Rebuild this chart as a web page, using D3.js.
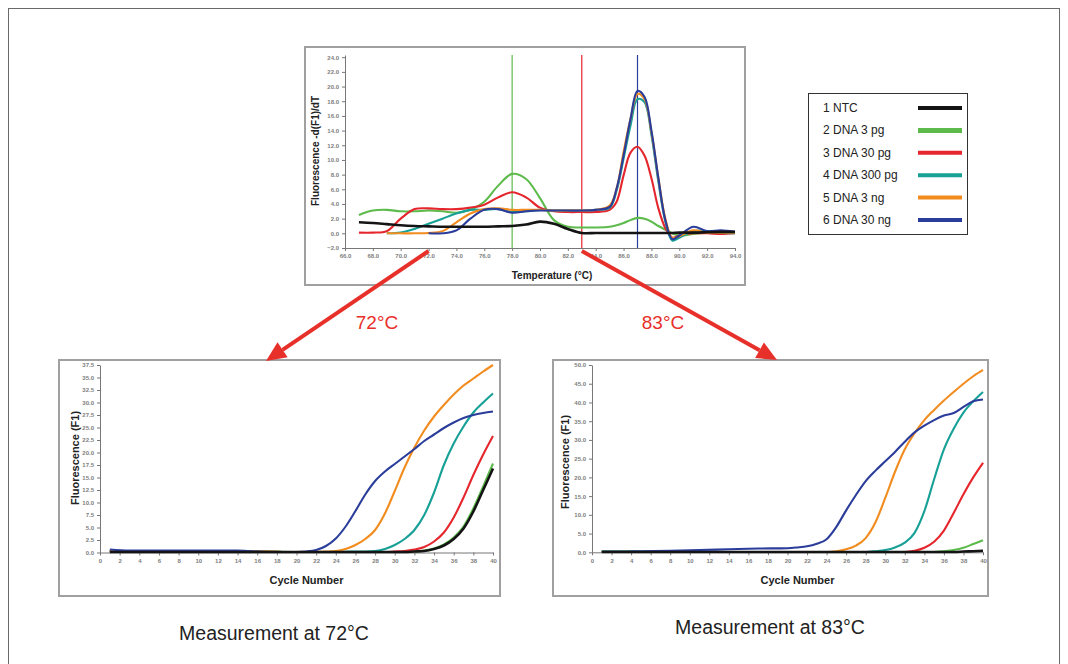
<!DOCTYPE html>
<html>
<head>
<meta charset="utf-8">
<script src="https://cdn.jsdelivr.net/npm/d3@7/dist/d3.min.js"></script>
<style>
body { margin: 0; background: #fff; }
svg { display: block; font-family: 'Liberation Sans', Arial, sans-serif; }
.axis .tick text { font-size: 6px; font-weight: bold; fill: #808080; }
.axis .tick line, .axis .domain { stroke: #777; }
</style>
</head>
<body>
<script>
var seriesNames = ['1 NTC', '2 DNA 3 pg', '3 DNA 30 pg', '4 DNA 300 pg', '5 DNA 3 ng', '6 DNA 30 ng'];
var seriesColors = ['#141414', '#5dbb4c', '#e5262d', '#17a096', '#f28c1f', '#2b3d9a'];

// melting curve, -d(F1)/dT
var meltTemps = [67, 68, 69, 70, 71, 72, 73, 74, 75, 76, 77, 78, 79, 80, 81, 82, 83, 84, 85, 85.5, 86, 86.5, 87, 87.5, 88, 88.5, 89, 89.5, 90, 91, 92, 93, 94];
var meltNTC = [1.5, 1.4, 1.25, 1.1, 1.0, 0.95, 0.9, 0.9, 0.9, 0.9, 0.95, 1.0, 1.2, 1.6, 1.3, 0.6, 0.05, 0.05, 0.05, 0.05, 0.05, 0.05, 0.05, 0.05, 0.05, 0.05, 0.05, 0.05, 0.1, 0.1, 0.15, 0.2, 0.2];
var melt3pg = [2.5, 3.1, 3.2, 3.0, 3.0, 3.1, 3.0, 2.8, 3.2, 4.3, 6.5, 8.1, 7.4, 4.8, 1.8, 0.9, 0.8, 0.8, 0.9, 1.1, 1.4, 1.8, 2.1, 2.0, 1.6, 1.0, 0.5, 0.0, -0.3, -0.1, 0.1, 0.2, 0.1];
var melt30pg = [0.1, 0.1, 0.3, 2.0, 3.3, 3.4, 3.3, 3.3, 3.5, 3.9, 4.9, 5.6, 4.9, 3.5, 3.0, 2.9, 2.9, 2.9, 3.2, 4.3, 7.9, 11.0, 11.8, 10.6, 7.5, 3.4, 0.7, -0.6, -0.3, 0.0, 0.0, -0.1, 0.0];
var melt300pg = [null, null, 0.0, 0.1, 0.6, 1.3, 2.0, 2.7, 3.2, 3.2, 3.3, 2.9, 3.0, 3.2, 3.1, 3.1, 3.1, 3.2, 3.5, 5.8, 10.2, 14.7, 18.3, 17.9, 13.4, 7.0, 1.6, -1.0, -0.6, 0.3, 0.3, 0.1, 0.0];
var melt3ng = [null, null, 0.0, 0.0, 0.0, 0.05, 0.3, 1.5, 2.7, 3.3, 3.4, 3.2, 3.2, 3.2, 3.1, 3.1, 3.1, 3.2, 3.8, 6.1, 11.1, 15.6, 19.0, 18.3, 13.8, 7.5, 2.0, -0.6, -0.4, 0.4, 0.1, 0.1, 0.1];
var melt30ng = [null, null, null, null, null, 0.0, 0.0, 0.4, 2.0, 3.2, 3.3, 2.8, 3.0, 3.1, 3.1, 3.1, 3.1, 3.2, 3.6, 6.1, 10.6, 15.6, 19.4, 18.6, 14.0, 7.5, 1.8, -0.8, -0.3, 0.9, 0.3, 0.4, 0.2];
var meltTicksX = [66, 68, 70, 72, 74, 76, 78, 80, 82, 84, 86, 88, 90, 92, 94];
var meltTicksY = [-2, 0, 2, 4, 6, 8, 10, 12, 14, 16, 18, 20, 22, 24];
var markerTemps = [78, 83, 87];
var markerColors = ['#5dbb4c', '#e5262d', '#2b3d9a'];
var readTemps = [72, 83];
var readLabels = ['72°C', '83°C'];

// amplification curves, F1
var ampCycles = [1, 3, 5, 8, 11, 14, 17, 20, 21, 22, 23, 24, 25, 26, 27, 28, 29, 30, 31, 32, 33, 34, 35, 36, 37, 38, 39, 40];
var amp72NTC = [0.1, 0.1, 0.1, 0.1, 0.1, 0.1, 0.1, 0.1, 0.1, 0.1, 0.1, 0.1, 0.1, 0.1, 0.1, 0.1, 0.1, 0.1, 0.1, 0.2, 0.3, 0.7, 1.4, 2.7, 4.8, 8.2, 12.5, 16.8];
var amp72_3pg = [0.2, 0.2, 0.2, 0.2, 0.2, 0.2, 0.15, 0.1, 0.1, 0.1, 0.1, 0.1, 0.1, 0.1, 0.1, 0.1, 0.1, 0.1, 0.1, 0.2, 0.4, 0.8, 1.6, 3.0, 5.2, 8.8, 13.2, 17.8];
var amp72_30pg = [0.3, 0.3, 0.3, 0.3, 0.3, 0.3, 0.2, 0.1, 0.1, 0.1, 0.1, 0.1, 0.1, 0.1, 0.1, 0.1, 0.1, 0.2, 0.3, 0.6, 1.1, 2.2, 4.0, 7.0, 11.0, 15.5, 19.6, 23.3];
var amp72_300pg = [0.3, 0.3, 0.3, 0.3, 0.3, 0.3, 0.2, 0.1, 0.1, 0.1, 0.1, 0.1, 0.15, 0.2, 0.2, 0.3, 0.7, 1.5, 2.7, 4.5, 7.5, 12.0, 17.5, 21.8, 25.2, 28.0, 30.0, 31.8];
var amp72_3ng = [0.3, 0.3, 0.3, 0.3, 0.3, 0.3, 0.2, 0.1, 0.1, 0.15, 0.2, 0.3, 0.7, 1.5, 2.7, 4.5, 7.8, 12.3, 17.0, 21.0, 24.4, 27.2, 29.5, 31.6, 33.4, 34.8, 36.2, 37.5];
var amp72_30ng = [0.6, 0.4, 0.4, 0.4, 0.4, 0.4, 0.1, 0.1, 0.2, 0.5, 1.3, 2.8, 5.2, 8.3, 11.6, 14.3, 16.2, 17.7, 19.2, 20.7, 22.3, 23.6, 24.9, 26.0, 26.9, 27.5, 27.9, 28.2];
var amp83NTC = [0.1, 0.1, 0.1, 0.1, 0.1, 0.1, 0.1, 0.1, 0.1, 0.1, 0.1, 0.1, 0.1, 0.1, 0.1, 0.1, 0.1, 0.1, 0.1, 0.1, 0.1, 0.1, 0.1, 0.1, 0.1, 0.2, 0.3, 0.4];
var amp83_3pg = [0.3, 0.3, 0.2, 0.1, 0.1, 0.1, 0.1, 0.1, 0.1, 0.1, 0.1, 0.1, 0.1, 0.1, 0.1, 0.1, 0.1, 0.1, 0.1, 0.1, 0.1, 0.1, 0.1, 0.3, 0.6, 1.2, 2.2, 3.2];
var amp83_30pg = [0.1, 0.1, 0.1, 0.1, 0.1, 0.1, 0.1, 0.1, 0.1, 0.1, 0.1, 0.1, 0.1, 0.1, 0.1, 0.1, 0.1, 0.1, 0.1, 0.1, 0.4, 1.2, 2.8, 5.8, 10.5, 15.5, 20.0, 23.9];
var amp83_300pg = [0.1, 0.1, 0.1, 0.1, 0.1, 0.1, 0.1, 0.1, 0.1, 0.1, 0.1, 0.1, 0.1, 0.1, 0.1, 0.1, 0.3, 0.6, 1.3, 2.6, 5.2, 11.0, 19.5, 27.5, 33.0, 37.3, 40.3, 42.8];
var amp83_3ng = [0.1, 0.1, 0.1, 0.1, 0.1, 0.1, 0.1, 0.1, 0.1, 0.1, 0.1, 0.1, 0.3, 0.8, 1.8, 3.8, 8.0, 14.5, 21.5, 27.5, 31.8, 35.3, 38.0, 40.5, 42.8, 45.0, 47.0, 48.7];
var amp83_30ng = [0.2, 0.2, 0.3, 0.4, 0.6, 0.8, 1.0, 1.1, 1.3, 1.6, 2.3, 3.5, 6.8, 11.2, 15.3, 19.0, 21.8, 24.3, 26.8, 29.5, 32.0, 33.8, 35.3, 36.5, 37.2, 38.8, 40.3, 40.8];
var cycleTicks = [0, 2, 4, 6, 8, 10, 12, 14, 16, 18, 20, 22, 24, 26, 28, 30, 32, 34, 36, 38, 40];
var amp72TicksY = [0, 2.5, 5, 7.5, 10, 12.5, 15, 17.5, 20, 22.5, 25, 27.5, 30, 32.5, 35, 37.5];
var amp83TicksY = [0, 5, 10, 15, 20, 25, 30, 35, 40, 45, 50];
var captions = ['Measurement at 72°C', 'Measurement at 83°C'];

var svg = d3.select('body').append('svg')
	.attr('width', 1068)
	.attr('height', 664);

svg.append('rect')
	.attr('x', 8.5).attr('y', 8.5)
	.attr('width', 1051).attr('height', 680)
	.attr('fill', 'none').attr('stroke', '#6a6a6a');

// draw order: keep NTC on top
var drawOrder = [1, 2, 3, 4, 5, 0];

function drawPanel(cfg) {
	var g = svg.append('g');

	g.append('rect')
		.attr('x', cfg.frame[0]).attr('y', cfg.frame[1])
		.attr('width', cfg.frame[2]).attr('height', cfg.frame[3])
		.attr('fill', '#fff').attr('stroke', '#a0a0a0').attr('stroke-width', 2);

	var x = d3.scaleLinear().domain(cfg.xDomain).range(cfg.xRange);
	var y = d3.scaleLinear().domain(cfg.yDomain).range(cfg.yRange);

	g.append('g')
		.attr('class', 'axis')
		.attr('transform', 'translate(0,' + cfg.yRange[0] + ')')
		.call(d3.axisBottom(x).tickValues(cfg.xTicks).tickFormat(cfg.xFormat).tickSize(3).tickSizeOuter(0));

	g.append('g')
		.attr('class', 'axis')
		.attr('transform', 'translate(' + cfg.xRange[0] + ',0)')
		.call(d3.axisLeft(y).tickValues(cfg.yTicks).tickFormat(d3.format('.1f')).tickSize(3).tickSizeOuter(0));

	if (cfg.markers) {
		cfg.markers.forEach(function(t, i) {
			g.append('line')
				.attr('x1', x(t)).attr('x2', x(t))
				.attr('y1', y(cfg.yDomain[1])).attr('y2', y(cfg.yDomain[0]))
				.attr('stroke', markerColors[i]).attr('stroke-width', 1.2);
		});
	}

	var line = d3.line()
		.defined(function(d) { return d[1] != null; })
		.x(function(d) { return x(d[0]); })
		.y(function(d) { return y(d[1]); })
		.curve(cfg.curve);

	drawOrder.forEach(function(i) {
		var vals = cfg.series[i];
		g.append('path')
			.datum(cfg.xs.map(function(t, j) { return [t, vals[j]]; }))
			.attr('d', line)
			.attr('fill', 'none')
			.attr('stroke', seriesColors[i])
			.attr('stroke-width', i === 0 ? 2.6 : 2.1)
			.attr('stroke-linejoin', 'round');
	});

	g.append('text')
		.attr('x', (cfg.xRange[0] + cfg.xRange[1]) / 2 + cfg.xTitleShift)
		.attr('y', cfg.xTitleY)
		.attr('text-anchor', 'middle')
		.attr('font-size', cfg.titleSize).attr('font-weight', 'bold').attr('fill', '#222')
		.text(cfg.xTitle);

	g.append('text')
		.attr('transform', 'translate(' + cfg.yTitlePos[0] + ',' + cfg.yTitlePos[1] + ') rotate(-90)')
		.attr('text-anchor', 'middle')
		.attr('font-size', cfg.titleSize).attr('font-weight', 'bold').attr('fill', '#222')
		.text(cfg.yTitle);

	return { x: x, y: y };
}

var melt = drawPanel({
	frame: [305, 47, 440, 238],
	xDomain: [66, 94], xRange: [345, 735],
	yDomain: [-2, 24.3], yRange: [248, 55],
	xTicks: meltTicksX, yTicks: meltTicksY,
	xFormat: d3.format('.1f'),
	xs: meltTemps,
	series: [meltNTC, melt3pg, melt30pg, melt300pg, melt3ng, melt30ng],
	curve: d3.curveCatmullRom.alpha(0.5),
	markers: markerTemps,
	xTitle: 'Temperature (°C)', xTitleY: 279, xTitleShift: 12,
	yTitle: 'Fluorescence -d(F1)/dT', yTitlePos: [319, 151],
	titleSize: 10
});

drawPanel({
	frame: [59, 360, 441, 236],
	xDomain: [0, 40], xRange: [100, 493],
	yDomain: [0, 37.5], yRange: [552.5, 365],
	xTicks: cycleTicks, yTicks: amp72TicksY,
	xFormat: d3.format('d'),
	xs: ampCycles,
	series: [amp72NTC, amp72_3pg, amp72_30pg, amp72_300pg, amp72_3ng, amp72_30ng],
	curve: d3.curveMonotoneX,
	xTitle: 'Cycle Number', xTitleY: 584, xTitleShift: 10,
	yTitle: 'Fluorescence (F1)', yTitlePos: [79, 458],
	titleSize: 11
});

drawPanel({
	frame: [553, 360, 435, 236],
	xDomain: [0, 40], xRange: [592, 983],
	yDomain: [0, 50], yRange: [552.3, 365],
	xTicks: cycleTicks, yTicks: amp83TicksY,
	xFormat: d3.format('d'),
	xs: ampCycles,
	series: [amp83NTC, amp83_3pg, amp83_30pg, amp83_300pg, amp83_3ng, amp83_30ng],
	curve: d3.curveMonotoneX,
	xTitle: 'Cycle Number', xTitleY: 584, xTitleShift: 10,
	yTitle: 'Fluorescence (F1)', yTitlePos: [569, 462],
	titleSize: 11
});

// legend
var legend = svg.append('g');
legend.append('rect')
	.attr('x', 808.5).attr('y', 93.5).attr('width', 159).attr('height', 141)
	.attr('fill', '#fff').attr('stroke', '#333');
seriesNames.forEach(function(name, i) {
	var cy = 108 + i * 22.4;
	legend.append('text')
		.attr('x', 823).attr('y', cy + 4)
		.attr('font-size', 12).attr('fill', '#222')
		.text(name);
	legend.append('line')
		.attr('x1', 918).attr('x2', 962).attr('y1', cy).attr('y2', cy)
		.attr('stroke', seriesColors[i]).attr('stroke-width', i === 1 ? 5 : 4);
});

// arrows from the read-out temperatures to the amplification plots
var arrowEnds = [[266, 361], [777, 360]];
var labelPos = [[377, 329], [663, 329]];
readTemps.forEach(function(t, i) {
	var x0 = melt.x(t), y0 = 251;
	var x1 = arrowEnds[i][0], y1 = arrowEnds[i][1];
	var ang = Math.atan2(y1 - y0, x1 - x0);
	var headLen = 20, headW = 9;
	var bx = x1 - headLen * Math.cos(ang), by = y1 - headLen * Math.sin(ang);
	svg.append('line')
		.attr('x1', x0).attr('y1', y0).attr('x2', bx).attr('y2', by)
		.attr('stroke', '#e8302a').attr('stroke-width', 4);
	svg.append('path')
		.attr('d', 'M' + x1 + ',' + y1 +
			'L' + (bx + headW * Math.sin(ang)) + ',' + (by - headW * Math.cos(ang)) +
			'L' + (bx - headW * Math.sin(ang)) + ',' + (by + headW * Math.cos(ang)) + 'Z')
		.attr('fill', '#e8302a');
	svg.append('text')
		.attr('x', labelPos[i][0]).attr('y', labelPos[i][1])
		.attr('text-anchor', 'middle')
		.attr('font-size', 19).attr('fill', '#e8302a')
		.text(readLabels[i]);
});

// captions
var captionPos = [[274, 640], [770, 634]];
captions.forEach(function(c, i) {
	svg.append('text')
		.attr('x', captionPos[i][0]).attr('y', captionPos[i][1])
		.attr('text-anchor', 'middle')
		.attr('font-size', 19.5).attr('fill', '#222')
		.text(c);
});
</script>
</body>
</html>
